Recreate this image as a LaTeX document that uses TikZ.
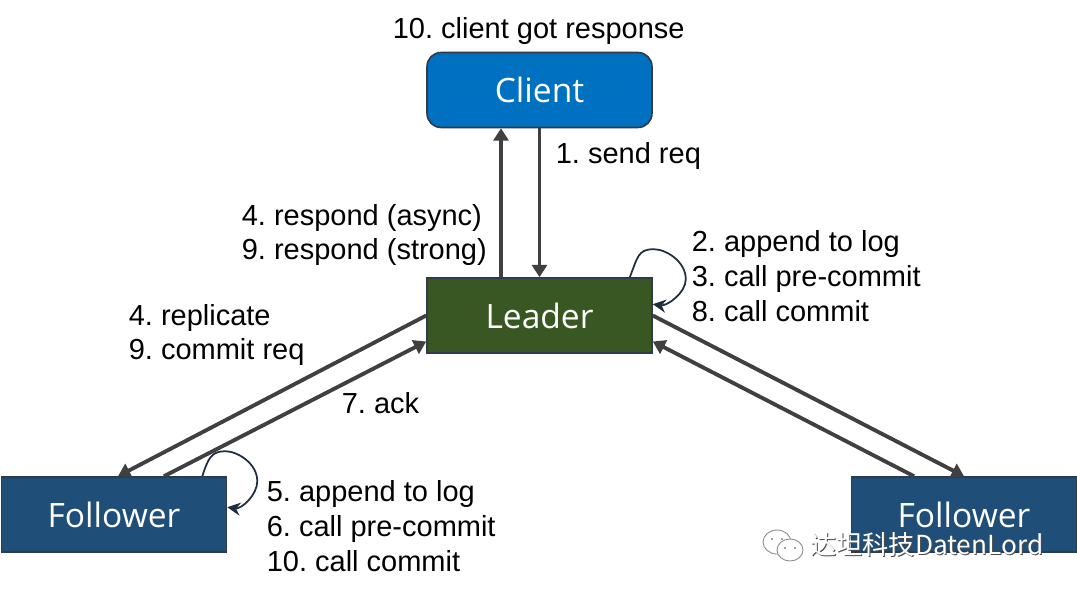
\documentclass[tikz,border=0pt]{standalone}
\usepackage{fontspec}
\setmainfont{Liberation Sans}
\newfontfamily\boxfont{Open Sans}
\newfontfamily\markfont{Noto Sans CJK SC}
\usetikzlibrary{arrows.meta,shapes.geometric}
\definecolor{clientblue}{HTML}{0070C0}
\definecolor{leadergreen}{HTML}{385723}
\definecolor{followerblue}{HTML}{1F4E79}
\definecolor{edgegray}{HTML}{404040}
\definecolor{loopnavy}{HTML}{1F2D3F}
\definecolor{rimgray}{HTML}{2F3B4A}
\frenchspacing

\begin{document}
\begin{tikzpicture}[x=0.02cm, y=0.02cm,
  boxnode/.style={draw=rimgray, line width=0.9pt, text=white, minimum width=4.5cm, minimum height=1.5cm, inner sep=0pt, font=\boxfont\fontsize{19.1}{24}\selectfont},
  note/.style={anchor=west, align=left, inner sep=0pt, font=\fontsize{16.5}{19.84}\selectfont},
  link/.style={draw=edgegray, line width=2.2pt, -{Triangle[length=7pt, width=8.5pt]}},
  selfloop/.style={draw=loopnavy, line width=1pt, -{Stealth[length=7.5pt, width=7.5pt]}},
  markicon/.style={draw=black!45, fill=white, line width=0.5pt}]
  \useasboundingbox (0,0) rectangle (1077,593);

  % Draw nodes
  \node[boxnode, fill=clientblue, rounded corners=0.28cm] (Client) at (539.5, 503) {Client};
  \node[boxnode, fill=leadergreen] (Leader) at (539.5, 277.5) {Leader};
  \node[boxnode, fill=followerblue] (FollowerL) at (114, 78.5) {Follower};
  \node[boxnode, fill=followerblue] (FollowerR) at (964, 78.5) {Follower};

  % Draw labels
  \node[note] (got) at (392.5, 562) {10. client got response};
  \node[note] (send) at (555.5, 437) {1. send req};
  \node[note] (respond) at (241.5, 358) {4. respond (async)\\9. respond (strong)};
  \node[note] (leadersteps) at (691.5, 317) {2. append to log\\3. call pre-commit\\8. call commit};
  \node[note] (replicate) at (128.5, 258) {4. replicate\\9. commit req};
  \node[note] (ack) at (341.5, 189.5) {7. ack};
  \node[note] (followersteps) at (266.5, 67) {5. append to log\\6. call pre-commit\\10. call commit};

  % Draw edges
  \draw[link] ([xshift=-0.77cm]Leader.north) -- ([xshift=-0.77cm]Client.south);
  \draw[link] (Client.south) -- (Leader.north);
  \draw[link] (Leader.west) -- ([xshift=0.08cm]FollowerL.north);
  \draw[link] ([xshift=1cm]FollowerL.north) -- ([yshift=-0.52cm]Leader.west);
  \draw[link] (Leader.east) -- (FollowerR.north);
  \draw[link] ([xshift=-1cm]FollowerR.north) -- ([yshift=-0.52cm]Leader.east);

  % Draw self loops
  \coordinate (leaderloop) at ([xshift=-0.46cm]Leader.north east);
  \coordinate (leaderback) at ([yshift=-0.54cm]Leader.north east);
  \coordinate (followerloop) at ([xshift=-0.5cm]FollowerL.north east);
  \coordinate (followerback) at ([yshift=-0.62cm]FollowerL.north east);
  \draw[selfloop] (leaderloop) .. controls +(8,20) and +(-16,0) .. ++(24,28)
    .. controls +(12,0) and +(0,18) .. ++(32,-30)
    .. controls +(0,-14) and +(14,-2) .. (leaderback);
  \draw[selfloop] (followerloop) .. controls +(6,18) and +(-14,0) .. ++(23,25)
    .. controls +(12,0) and +(0,18) .. ++(32,-30)
    .. controls +(0,-14) and +(14,-2) .. (followerback);

  % Draw watermark
  \node[markicon, ellipse, minimum width=0.56cm, minimum height=0.48cm, inner sep=0pt] (wechatA) at (777, 51) {};
  \node[markicon, ellipse, minimum width=0.52cm, minimum height=0.44cm, inner sep=0pt] (wechatB) at (790, 43) {};
  \fill[black!50] (772, 54) circle (1.2) (782, 54) circle (1.2) (785, 45) circle (1.2) (795, 45) circle (1.2);
  \node[anchor=west, inner sep=0pt, text=black!70, font=\markfont\fontsize{14.9}{16}\selectfont] (markshadow) at (811, 47) {达坦科技DatenLord};
  \node[anchor=west, inner sep=0pt, text=white, font=\markfont\fontsize{14.9}{16}\selectfont] (mark) at (810, 48) {达坦科技DatenLord};
\end{tikzpicture}
\end{document}
